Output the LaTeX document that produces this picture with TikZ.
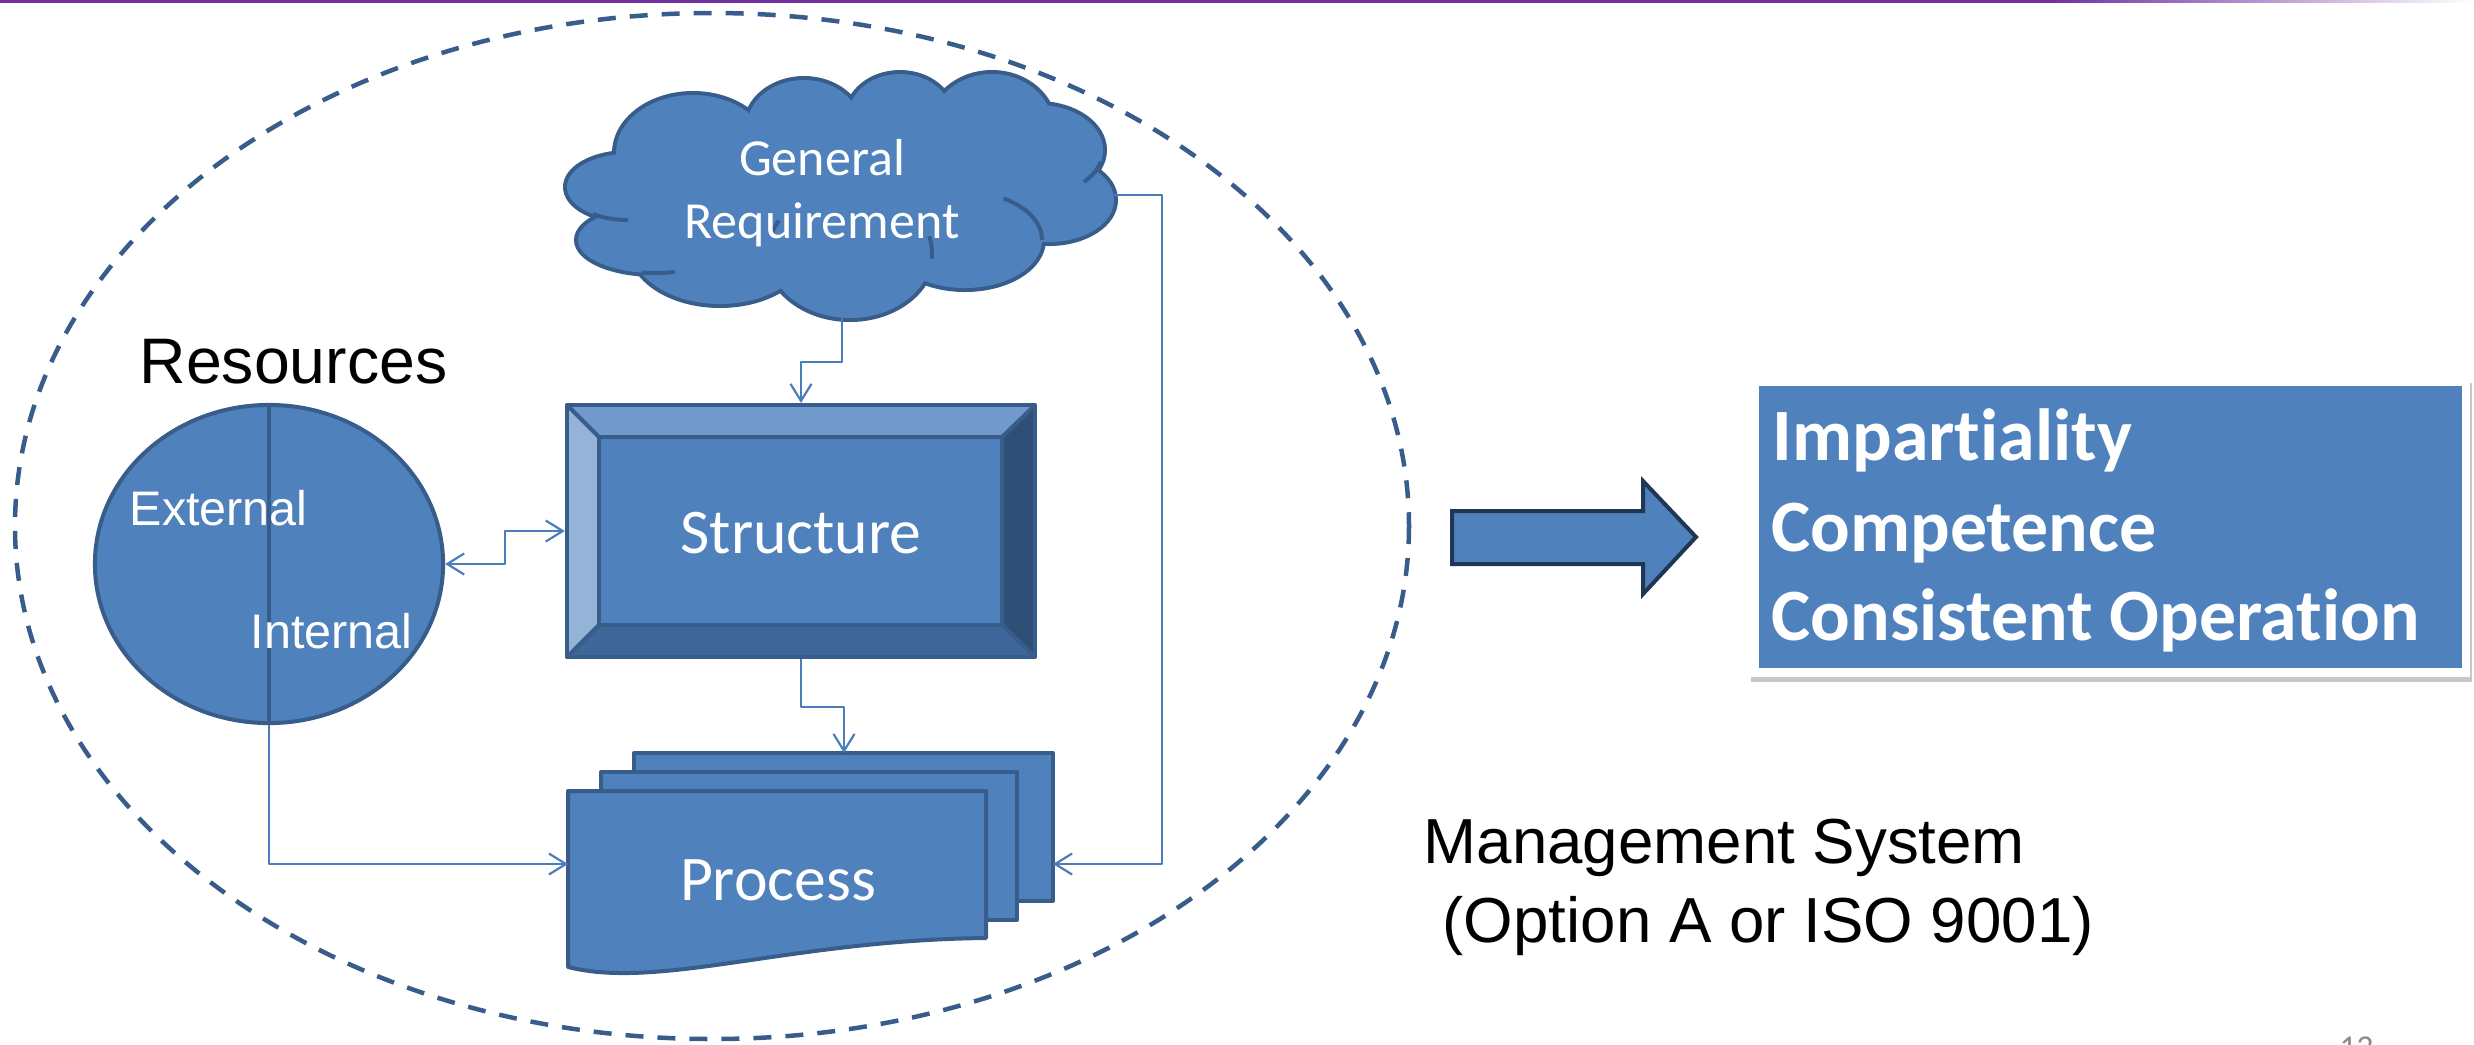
\documentclass[tikz,border=0pt]{standalone}
\usepackage{fontspec}
\setmainfont{Liberation Sans}
\newfontfamily\calibri[Ligatures=NoCommon]{Carlito}
\newfontfamily\arialf{Liberation Sans}
\usetikzlibrary{arrows.meta,shadows,shapes.geometric}
\definecolor{fillblue}{HTML}{4F81BD}
\definecolor{dkblue}{HTML}{385D8A}
\definecolor{connblue}{HTML}{4A7EBB}
\definecolor{bevtop}{HTML}{7299CB}
\definecolor{bevleft}{HTML}{95B3D7}
\definecolor{bevright}{HTML}{2F4F77}
\definecolor{bevbot}{HTML}{3E6699}
\definecolor{arrowdk}{HTML}{1F3655}
\definecolor{purp}{HTML}{7030A0}
\definecolor{pagegray}{HTML}{8C8C8C}
\tikzset{cb/.tip={Straight Barb[length=0.17cm,width=0.21cm]}}
\begin{document}
\begin{tikzpicture}[x=0.01cm,y=-0.01cm,line join=round,
  outl/.style={draw=dkblue,line width=0.04cm},
  conn/.style={draw=connblue,line width=0.022cm},
  wtxt/.style={text=white,inner sep=0},
  btxt/.style={text=black,inner sep=0},
  calsmall/.style={font=\calibri\fontsize{14.8}{17.9}\selectfont},
  calbig/.style={font=\calibri\fontsize{18.1}{21}\selectfont},
  calbold/.style={font=\calibri\bfseries\fontsize{21}{25.6}\selectfont},
  ariallbl/.style={font=\arialf\fontsize{13.8}{16}\selectfont},
  arialbig/.style={font=\arialf\fontsize{18.1}{22.5}\selectfont}]
\useasboundingbox (0,0) rectangle (2474,1044);
% top purple rule
\fill[purp] (0,0) rectangle (2050,2.5);
\shade[left color=purp,right color=white] (2049,0) rectangle (2474,2.5);
% dashed boundary
\draw[dkblue,line width=0.045cm,dash pattern=on 0.18cm off 0.14cm] (712,526) ellipse [x radius=697,y radius=513];
% cloud
\def\cloudlist{628/187/61/33,655/240/77/33,720/247/88/57,850/253/82/65,965/240/77/48,1049/200/65/42,1038/150/65/45,992/127/61/53,900/117/52/43,804/127/57/47,693/153/77/58}
\foreach \cx/\cy/\rx/\ry in \cloudlist
  \filldraw[fill=fillblue,draw=dkblue,line width=0.08cm] (\cx,\cy) ellipse [x radius=\rx,y radius=\ry];
\foreach \cx/\cy/\rx/\ry in \cloudlist
  \fill[fillblue] (\cx,\cy) ellipse [x radius=\rx,y radius=\ry];
\fill[fillblue] (840,190) ellipse [x radius=200,y radius=80];
\draw[outl] (965,240) ++(-60:77 and 48) arc[start angle=-60,end angle=0,x radius=77,y radius=48];
\draw[outl] (1038,150) ++(15:65 and 45) arc[start angle=15,end angle=45,x radius=65,y radius=45];
\draw[outl] (628,187) ++(90:61 and 33) arc[start angle=90,end angle=125,x radius=61,y radius=33];
\draw[outl] (655,240) ++(75:77 and 33) arc[start angle=75,end angle=100,x radius=77,y radius=33];
\draw[outl] (850,253) ++(-15:82 and 65) arc[start angle=-15,end angle=5,x radius=82,y radius=65];
\draw[outl] (850,253) ++(196:82 and 65) arc[start angle=196,end angle=210,x radius=82,y radius=65];
\coordinate (cloudS) at (842,318);
\coordinate (cloudE) at (1114,195);
\node[wtxt,calsmall,anchor=base] (gen1) at (822,175) {General};
\node[wtxt,calsmall,anchor=base] (gen2) at (822,238) {Requirement};
% structure bevel box
\fill[bevtop] (567,405) -- (1035,405) -- (1002,437) -- (599,437) -- cycle;
\fill[bevleft] (567,405) -- (599,437) -- (599,625) -- (567,657) -- cycle;
\fill[bevright] (1035,405) -- (1035,657) -- (1002,625) -- (1002,437) -- cycle;
\fill[bevbot] (567,657) -- (1035,657) -- (1002,625) -- (599,625) -- cycle;
\filldraw[fill=fillblue,outl] (599,437) rectangle (1002,625);
\draw[outl] (567,405) -- (599,437) (1035,405) -- (1002,437) (567,657) -- (599,625) (1035,657) -- (1002,625);
\node[outl,rectangle,minimum width=4.68cm,minimum height=2.52cm,inner sep=0] (struct) at (801,531) {};
\node[wtxt,calbig,anchor=base] (structtxt) at (801,553) {Structure};
% process stack
\filldraw[fill=fillblue,outl] (634,753) rectangle (1053,901);
\filldraw[fill=fillblue,outl] (601,772) rectangle (1017,920);
\filldraw[fill=fillblue,outl] (568,791) -- (986,791) -- (986,938) .. controls (790,940) and (660,990) .. (568,967) -- cycle;
\coordinate (procN) at (844,753);
\coordinate (procW) at (568,864);
\coordinate (procE) at (1053,864);
\node[wtxt,calbig,anchor=base] (proctxt) at (778,900) {Process};
% resources
\node[btxt,font=\arialf\fontsize{18.3}{21}\selectfont,anchor=base west] (restitle) at (139,383) {Resources};
\node[ellipse,fill=fillblue,outl,minimum width=3.48cm,minimum height=3.18cm,inner sep=0] (res) at (269,564) {};
\draw[outl] (res.north) -- (res.south);
\node[wtxt,ariallbl,anchor=base west] (ext) at (129,525) {External};
\node[wtxt,ariallbl,anchor=base west] (int) at (250,648) {Internal};
% connectors
\draw[conn,-cb] (cloudS) -- ++(0,44) -| (struct.north);
\draw[conn,cb-cb] (res.east) -- (505,564) |- (struct.west);
\draw[conn,-cb] (struct.south) -- ++(0,48) -| (procN);
\draw[conn,-cb] (res.south) |- (procW);
\draw[conn,-cb] (cloudE) -- (1162,195) |- (procE);
% big arrow
\filldraw[fill=fillblue,draw=arrowdk,line width=0.04cm,line join=miter] (1452,511) -- (1643,511) -- (1643,481) -- (1696,537) -- (1643,594) -- (1643,564) -- (1452,564) -- cycle;
% result box
\node[fill=white,drop shadow={shadow xshift=0.015cm,shadow yshift=-0.045cm,fill=black,opacity=0.22},minimum width=7.2cm,minimum height=2.98cm,inner sep=0] (qualframe) at (2110,528) {};
\node[fill=fillblue,minimum width=7.03cm,minimum height=2.82cm,inner sep=0] (qual) at (2110.5,527) {};
\node[wtxt,calbold,anchor=base west] (imp) at (1772,460) {Impartiality};
\node[wtxt,calbold,anchor=base west] (comp) at (1771,551) {Competence};
\node[wtxt,calbold,anchor=base west] (cons) at (1771,640) {Consistent Operation};
% management system label
\node[btxt,arialbig,anchor=base west] (ms1) at (1423,863) {Management System};
\node[btxt,arialbig,anchor=base west] (ms2) at (1442,942) {(Option A or ISO 9001)};
% page number
\node[text=pagegray,inner sep=0,font=\calibri\fontsize{9.5}{11}\selectfont,anchor=base west] (pg) at (2339,1058) {12};
\end{tikzpicture}
\end{document}
